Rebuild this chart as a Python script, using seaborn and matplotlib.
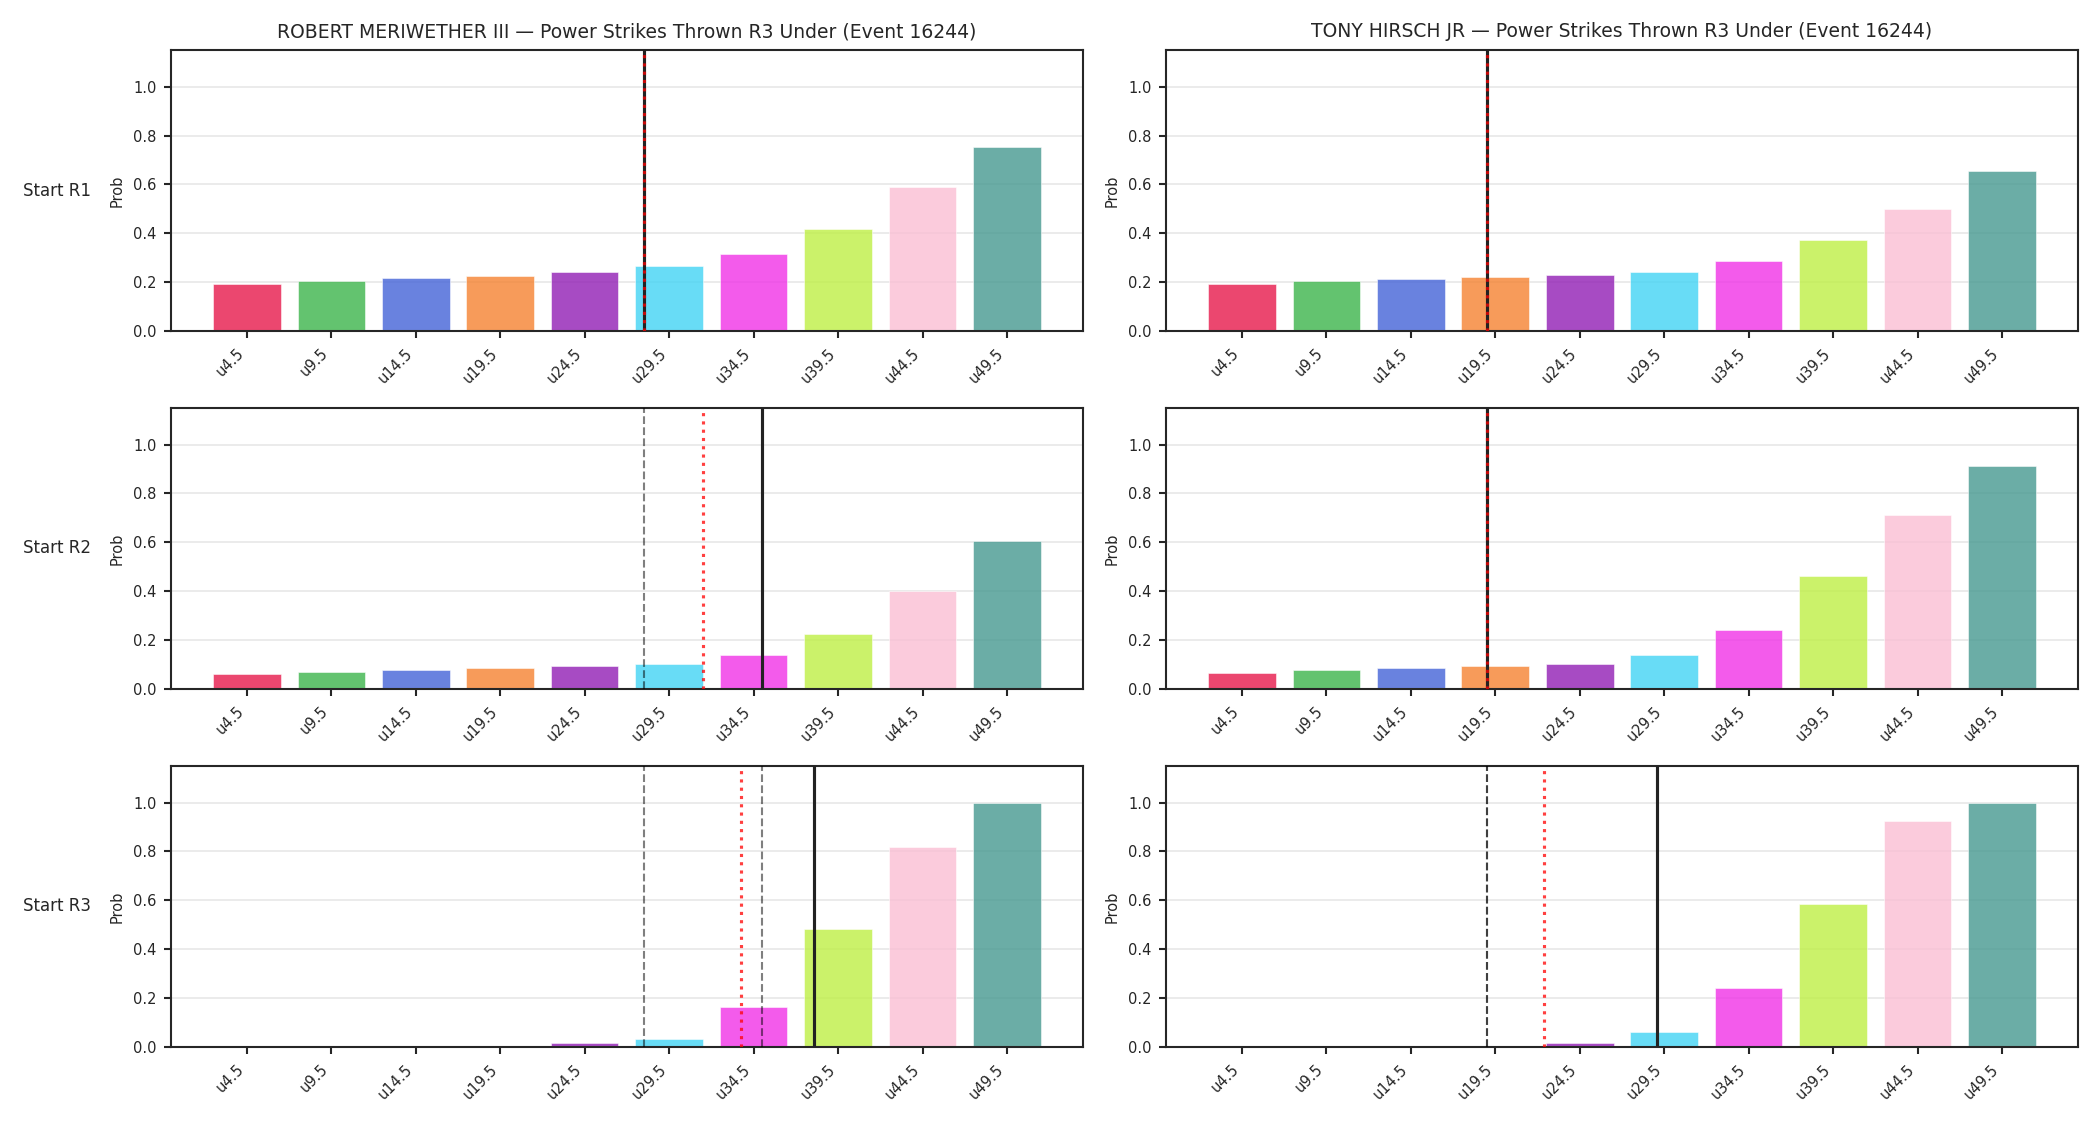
import numpy as np
import pandas as pd
import matplotlib
matplotlib.use("Agg")
import matplotlib.pyplot as plt
import seaborn as sns

# ---------------- data ----------------
categories = ["u4.5", "u9.5", "u14.5", "u19.5", "u24.5",
              "u29.5", "u34.5", "u39.5", "u44.5", "u49.5"]
thresholds = [4.5, 9.5, 14.5, 19.5, 24.5, 29.5, 34.5, 39.5, 44.5, 49.5]

fighters = ["ROBERT MERIWETHER III", "TONY HIRSCH JR"]
rounds = ["Start R1", "Start R2", "Start R3"]
title_suffix = " \u2014 Power Strikes Thrown R3 Under (Event 16244)"

meriwether_r1 = [0.192, 0.204, 0.216, 0.225, 0.241, 0.266, 0.315, 0.418, 0.590, 0.755]
meriwether_r2 = [0.062, 0.068, 0.077, 0.088, 0.093, 0.103, 0.140, 0.226, 0.401, 0.605]
meriwether_r3 = [0.001, 0.002, 0.003, 0.005, 0.015, 0.031, 0.163, 0.481, 0.817, 0.997]

hirsch_r1 = [0.192, 0.204, 0.212, 0.221, 0.229, 0.241, 0.286, 0.373, 0.500, 0.656]
hirsch_r2 = [0.064, 0.077, 0.086, 0.093, 0.101, 0.138, 0.242, 0.462, 0.714, 0.912]
hirsch_r3 = [0.0005, 0.002, 0.005, 0.006, 0.015, 0.063, 0.240, 0.583, 0.923, 0.999]

# projected totals (strikes) at the start of each round
meriwether_proj = [28.0, 35.0, 38.05]
meriwether_pace = [28.0, 31.5, 33.75]
hirsch_proj = [19.0, 19.0, 29.05]
hirsch_pace = [19.0, 19.0, 22.4]

palette = ["#e6194b", "#3cb44b", "#4363d8", "#f58231", "#911eb4",
           "#42d4f4", "#f032e6", "#bfef45", "#fabed4", "#469990"]

probs = {
    fighters[0]: [meriwether_r1, meriwether_r2, meriwether_r3],
    fighters[1]: [hirsch_r1, hirsch_r2, hirsch_r3],
}
proj = {fighters[0]: meriwether_proj, fighters[1]: hirsch_proj}
pace = {fighters[0]: meriwether_pace, fighters[1]: hirsch_pace}

# ---------------- style ----------------
sns.set_theme(style="ticks")
plt.rcParams.update({
    "font.family": ["DejaVu Sans"],
    "axes.linewidth": 1.0,
    "xtick.major.width": 1.0,
    "ytick.major.width": 1.0,
    "xtick.major.size": 3.5,
    "ytick.major.size": 3.5,
    "xtick.labelsize": 7,
    "ytick.labelsize": 7,
})

fig, axes = plt.subplots(3, 2, figsize=(14, 7.5), dpi=150)
fig.subplots_adjust(left=0.0814, right=0.9895, bottom=0.0693, top=0.9556,
                    wspace=0.091, hspace=0.273)

cat_index = np.arange(len(categories))

for c, fighter in enumerate(fighters):
    for r in range(3):
        ax = axes[r, c]
        df = pd.DataFrame({"line": categories, "prob": probs[fighter][r]})
        sns.barplot(data=df, x="line", y="prob", hue="line", order=categories,
                    hue_order=categories, palette=palette, saturation=1,
                    alpha=0.8, edgecolor="white", linewidth=0.3,
                    legend=False, ax=ax, zorder=2)
        ax.set_xlim(-0.9, 9.9)
        ax.set_ylim(0, 1.15)
        ax.set_yticks([0.0, 0.2, 0.4, 0.6, 0.8, 1.0])
        ax.grid(axis="y", color="#e8e8e8", linewidth=0.8, zorder=0)
        ax.set_axisbelow(True)
        for s in ax.spines.values():
            s.set_visible(True)
            s.set_color("#262626")
        ax.set_xlabel("")
        ax.set_ylabel("Prob", fontsize=7)
        ax.tick_params(axis="x", labelrotation=45)
        for lab in ax.get_xticklabels():
            lab.set_ha("right")
            lab.set_rotation_mode("default")

        # previous-round projections
        for prev in range(r):
            xp = np.interp(proj[fighter][prev], thresholds, cat_index)
            ax.axvline(xp, color="black", alpha=0.5, linestyle="--",
                       linewidth=1.0, zorder=3)
        xb = np.interp(proj[fighter][r], thresholds, cat_index)
        ax.axvline(xb, color="#222222", linestyle="-", linewidth=1.5, zorder=4)
        xr = np.interp(pace[fighter][r], thresholds, cat_index)
        ax.axvline(xr, color="red", alpha=0.75, linestyle=":",
                   linewidth=1.5, zorder=5)

        if r == 0:
            ax.set_title(fighter + title_suffix, fontsize=9, pad=6)
        if c == 0:
            ax.text(-0.162, 0.5, rounds[r], transform=ax.transAxes,
                    ha="left", va="center", fontsize=8)

fig.savefig("out.png", dpi=150)
